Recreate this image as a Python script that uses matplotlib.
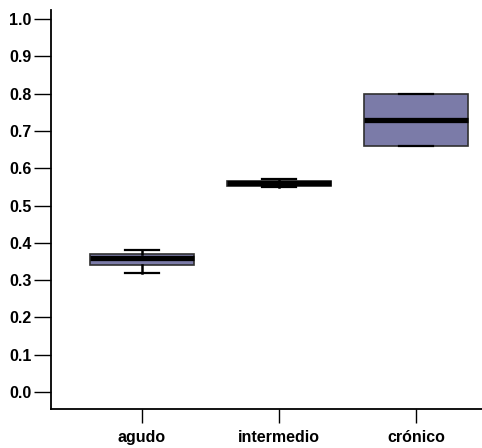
import matplotlib.pyplot as plt

# values
groups = ["agudo", "intermedio", "crónico"]
whisker_low = [0.32, 0.55, 0.66]
q1 = [0.34, 0.553, 0.66]
medians = [0.36, 0.56, 0.73]
q3 = [0.37, 0.567, 0.80]
whisker_high = [0.38, 0.57, 0.80]

plt.rcParams['font.family'] = ['Liberation Sans', 'DejaVu Sans']

stats = []
for i in range(len(groups)):
    stats.append({"label": groups[i], "whislo": whisker_low[i], "q1": q1[i],
                  "med": medians[i], "q3": q3[i], "whishi": whisker_high[i],
                  "fliers": []})

fig = plt.figure(figsize=(4.82, 4.48), dpi=100)
ax = fig.add_axes([0.1058, 0.087, 0.894, 0.891])

ax.bxp(stats, positions=[1, 2, 3], widths=0.76, patch_artist=True,
       showfliers=False,
       boxprops=dict(facecolor="#7b7ba8", edgecolor="#303030", linewidth=1.2),
       medianprops=dict(color="black", linewidth=3.8, solid_capstyle="butt"),
       whiskerprops=dict(color="black", linewidth=1.8),
       capprops=dict(color="black", linewidth=1.6),
       capwidths=0.25)

ax.set_xlim(0.336, 3.48)
ax.set_ylim(-0.046, 1.025)
ax.set_yticks([i / 10 for i in range(11)])
ax.set_yticklabels(["%.1f" % (i / 10) for i in range(11)])

for s in ["top", "right"]:
    ax.spines[s].set_visible(False)
for s in ["left", "bottom"]:
    ax.spines[s].set_linewidth(1.3)

ax.tick_params(axis="y", length=12, width=1, labelsize=11.5, pad=2)
ax.tick_params(axis="x", length=10, width=1, labelsize=11.5, pad=5)
for lab in ax.get_xticklabels() + ax.get_yticklabels():
    lab.set_fontweight("bold")

fig.savefig("out.png", dpi=100)
